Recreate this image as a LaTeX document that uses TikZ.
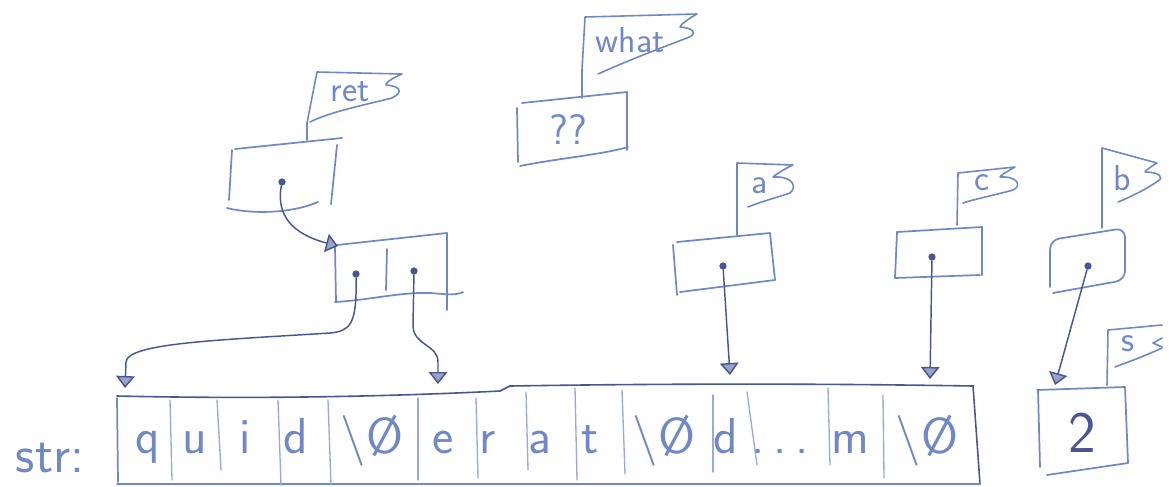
\documentclass[tikz,border=0pt]{standalone}
\usepackage{fontspec}
\usetikzlibrary{arrows.meta}
\definecolor{ink}{RGB}{112,136,200}
\definecolor{inklight}{RGB}{150,170,225}
\definecolor{inkdark}{RGB}{72,86,150}
\begin{document}
\begin{tikzpicture}[x=0.75pt,y=-0.75pt,
  box/.style={draw=ink, line width=1.3pt, line join=round, line cap=round},
  cellsep/.style={draw=inklight, line width=1pt, line cap=round},
  flag/.style={draw=ink, line width=1.2pt, line join=round, line cap=round},
  ptr/.style={draw=inkdark, line width=1.1pt, line cap=round,
    -{Triangle[width=14pt,length=9pt,fill=inkdark!55]}},
  dot/.style={circle, fill=inkdark, inner sep=0pt, minimum size=5.5pt},
  lbl/.style={text=ink, font=\sffamily\fontsize{27}{27}\selectfont, inner sep=0pt},
  cell/.style={text=ink, font=\sffamily\fontsize{38}{38}\selectfont, inner sep=0pt, anchor=base}]
\useasboundingbox (0,0) rectangle (1169,486);

% ---------- the character array ----------
\node[cell, font=\sffamily\fontsize{40}{40}\selectfont] (strlbl) at (50,472) {str:};
\draw[inkdark, line width=1.2pt, line cap=round]
  (117,396) .. controls (250,399) and (380,397) .. (500,391) -- (510,386)
  .. controls (700,383) and (850,384) .. (973,386) -- (980,484);
\draw[box] (117,398) -- (118,482);
\draw[box] (117,484) -- (980,484);
\foreach \xa/\ya/\xb/\yb in {170/400/172/480, 217/400/221/470, 278/400/281/485,
  328/400/331/485, 418/398/418/480, 476/398/478/478, 526/392/528/470,
  575/388/577/480, 622/390/625/474, 713/395/713/472, 747/392/757/465,
  828/388/830/465, 883/395/884/478}
  \draw[cellsep] (\xa,\ya) -- (\xb,\yb);
\node[cell] (c1)  at (148,453) {q};
\node[cell] (c2)  at (195,453) {u};
\node[cell] (c3)  at (245,453) {i};
\node[cell] (c4)  at (296,453) {d};
\node[cell] (c5)  at (372,453) {\textbackslash Ø};
\node[cell] (c6)  at (443,453) {e};
\node[cell] (c7)  at (488,453) {r};
\node[cell] (c8)  at (540,453) {a};
\node[cell] (c9)  at (590,453) {t};
\node[cell] (c10) at (664,453) {\textbackslash Ø};
\node[cell] (c11) at (726,453) {d};
\node[cell] (c12) at (780,453) {.\,.\,.};
\node[cell] (c13) at (850,453) {m};
\node[cell] (c14) at (927,453) {\textbackslash Ø};
\coordinate (tipq) at (125,388);
\coordinate (tipe) at (438,384);
\coordinate (tipa) at (730,375);
\coordinate (tipc) at (930,379);
\coordinate (tipb) at (1055,385);

% ---------- ret ----------
\draw[box] (235,149) -- (342,138);
\draw[box] (232,150) -- (229,200);
\draw[box] (337,145) -- (331,204);
\draw[box] (227,208) .. controls (250,214) and (290,214) .. (318,202);
\draw[flag] (307,140) -- (307,123) -- (317,72) -- (402,74)
  .. controls (392,78) and (384,84) .. (386,85)
  .. controls (400,86) and (404,92) .. (392,98)
  .. controls (360,106) and (330,112) .. (310,122);
\node[lbl] (ret) at (350,92) {ret};
\node[dot] (dret) at (282,182) {};

% ---------- the pair ----------
\draw[box] (337,245) -- (447,233) -- (447,310);
\draw[box] (335,247) -- (336,302);
\draw[box] (387,249) -- (386,290);
\draw[box] (335,302) .. controls (370,300) and (400,292) .. (430,293)
  .. controls (445,294) and (455,296) .. (463,292);
\node[dot] (dpl) at (356,274) {};
\node[dot] (dpr) at (414,271) {};
\coordinate (tippair) at (338,246);

% ---------- what ----------
\draw[box] (522,103) -- (627,92) -- (627,150);
\draw[box] (517,108) -- (518,162);
\draw[box] (520,166) .. controls (560,158) and (600,155) .. (628,147);
\draw[flag] (582,98) -- (582,70) -- (585,17) -- (697,14)
  .. controls (688,19) and (680,25) .. (680,27)
  .. controls (694,28) and (698,34) .. (687,38)
  .. controls (650,52) and (620,64) .. (598,74);
\node[lbl] (what) at (630,40) {what};
\node[lbl, font=\sffamily\fontsize{32}{32}\selectfont] (qq) at (568,130) {??};

% ---------- a ----------
\draw[box] (677,242) -- (770,233) -- (775,280);
\draw[box] (673,245) -- (677,295);
\draw[box] (680,292) -- (775,280);
\draw[flag] (737,235) -- (737,163) -- (793,165)
  .. controls (782,170) and (774,176) .. (773,177)
  .. controls (792,176) and (798,186) .. (790,193)
  .. controls (775,198) and (760,202) .. (748,207);
\node[lbl] (la) at (760,186) {a};
\node[dot] (da) at (723,266) {};

% ---------- c ----------
\draw[box] (897,232) -- (982,227) -- (982,275);
\draw[box] (897,232) -- (895,278) -- (980,275);
\draw[flag] (957,225) -- (958,173) -- (1015,167)
  .. controls (1006,172) and (1000,176) .. (1000,177)
  .. controls (1018,176) and (1022,186) .. (1013,190)
  .. controls (995,195) and (975,199) .. (963,203);
\node[lbl] (lc) at (982,183) {c};
\node[dot] (dc) at (932,257) {};

% ---------- b ----------
\draw[box, rounded corners=7pt] (1050,287) -- (1050,240) -- (1125,228) -- (1125,280)
  -- (1053,293);
\draw[flag] (1102,228) -- (1102,148) -- (1157,163)
  .. controls (1150,167) and (1145,171) .. (1145,172)
  .. controls (1160,172) and (1164,178) .. (1158,181)
  .. controls (1145,190) and (1130,197) .. (1118,202);
\node[lbl] (lb) at (1122,178) {b};
\node[dot] (db) at (1088,266) {};

% ---------- s ----------
\draw[box] (1037,390) -- (1125,387) -- (1128,463);
\draw[box] (1038,390) -- (1040,467);
\draw[box] (1047,475) -- (1128,463);
\draw[flag] (1107,385) -- (1108,330) -- (1162,325);
\draw[flag] (1162,338) -- (1153,343) -- (1162,347);
\draw[flag] (1162,348) .. controls (1145,356) and (1128,362) .. (1115,367);
\node[lbl] (ls) at (1128,344) {s};
\node[lbl, text=inkdark, font=\sffamily\fontsize{44}{44}\selectfont] (two) at (1082,433) {2};

% ---------- pointers ----------
\draw[ptr] (dret) .. controls (276,215) and (292,234) .. (tippair);
\draw[ptr] (dpl) .. controls (357,325) and (350,331) .. (330,333)
  .. controls (220,340) and (127,343) .. (126,362) -- (tipq);
\draw[ptr] (dpr) -- (413,325) .. controls (413,346) and (438,344) .. (438,362) -- (tipe);
\draw[ptr] (da) -- (tipa);
\draw[ptr] (dc) -- (tipc);
\draw[ptr] (db) -- (tipb);
\end{tikzpicture}
\end{document}
